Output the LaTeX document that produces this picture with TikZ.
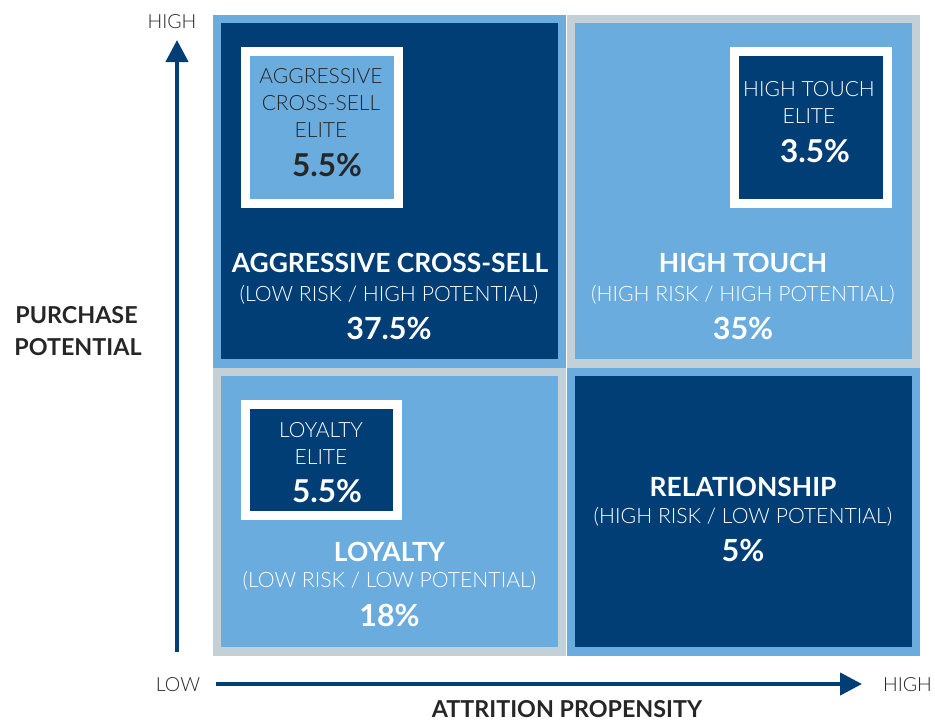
\documentclass[tikz,border=0pt]{standalone}
\usepackage{fontspec}
\usetikzlibrary{arrows.meta}
\setmainfont{Lato}
\newfontfamily\lightface{Lato Light}
\newfontfamily\boldface{Lato Bold}

\definecolor{navy}{HTML}{003E75}
\definecolor{sky}{HTML}{6AACDE}
\definecolor{mist}{HTML}{C3D1D6}
\definecolor{ink}{HTML}{262626}

\tikzset{
  cell/.style={line width=8.5pt, inner sep=0pt, outer sep=0pt, minimum width=345pt},
  elitebox/.style={draw=white, line width=9pt, inner sep=0pt, outer sep=0pt, minimum width=152.5pt},
  txt/.style={anchor=base, inner sep=0pt, outer sep=0pt},
  title/.style={txt, text=white, font=\boldface\fontsize{26.4}{26}\selectfont},
  subtitle/.style={txt, text=white, font=\lightface\fontsize{21.2}{21}\selectfont},
  share/.style={txt, text=white, font=\boldface\fontsize{30.5}{30}\selectfont},
  elitetxt/.style={txt, font=\lightface\fontsize{21}{21}\selectfont},
  eliteshare/.style={txt, font=\boldface\fontsize{31.5}{31}\selectfont},
  axislevel/.style={txt, text=ink, font=\lightface\fontsize{19.5}{19.5}\selectfont},
  axisname/.style={txt, text=ink, font=\boldface\fontsize{23.3}{23}\selectfont},
  axisarrow/.style={draw=navy, line width=4.3pt, -{Triangle[width=22pt,length=22pt]}},
}

\begin{document}
\begin{tikzpicture}[x=1pt,y=-1pt]
\useasboundingbox[fill=white] (0,0) rectangle (935,721);

% four quadrants: outer band colour + inner fill
\node[cell, draw=sky,  fill=navy, minimum height=344.5pt] (tl) at (389.25,191.2) {};
\node[cell, draw=mist, fill=sky,  minimum height=344.5pt] (tr) at (743.35,191.2) {};
\node[cell, draw=mist, fill=sky,  minimum height=279.5pt] (bl) at (389.25,511.7) {};
\node[cell, draw=sky,  fill=navy, minimum height=279.5pt] (br) at (743.35,511.7) {};

% elite boxes with white frames
\node[elitebox, fill=sky,  minimum height=152pt]   (tle) at (321.85,127.5) {};
\node[elitebox, fill=navy, minimum height=152pt]   (tre) at (810.85,127.5) {};
\node[elitebox, fill=navy, minimum height=110.4pt] (ble) at (321.65,460) {};

% elite labels
\node[elitetxt, text=ink] (tle1) at (321,83) {AGGRESSIVE};
\node[elitetxt, text=ink] (tle2) at (321,110) {CROSS-SELL};
\node[elitetxt, text=ink] (tle3) at (321,137) {ELITE};
\node[eliteshare, text=ink] (tle4) at (327,176) {5.5\%};

\node[elitetxt, text=white] (tre1) at (809,96.7) {HIGH TOUCH};
\node[elitetxt, text=white] (tre2) at (809,123) {ELITE};
\node[eliteshare, text=white] (tre3) at (815,162) {3.5\%};

\node[elitetxt, text=white] (ble1) at (321,437.3) {LOYALTY};
\node[elitetxt, text=white] (ble2) at (321,464) {ELITE};
\node[eliteshare, text=white] (ble3) at (327,502) {5.5\%};

% quadrant labels
\node[title]    (tlt) at (390,272.7) {AGGRESSIVE CROSS-SELL};
\node[subtitle] (tls) at (389,301.7) {(LOW RISK / HIGH POTENTIAL)};
\node[share]    (tlp) at (389,339) {37.5\%};

\node[title]    (trt) at (743,272.7) {HIGH TOUCH};
\node[subtitle] (trs) at (743,301.7) {(HIGH RISK / HIGH POTENTIAL)};
\node[share]    (trp) at (743,339) {35\%};

\node[title]    (blt) at (389.5,561) {LOYALTY};
\node[subtitle] (bls) at (389.5,587.5) {(LOW RISK / LOW POTENTIAL)};
\node[share]    (blp) at (389.5,626.7) {18\%};

\node[title]    (brt) at (743,496) {RELATIONSHIP};
\node[subtitle] (brs) at (743,523.5) {(HIGH RISK / LOW POTENTIAL)};
\node[share]    (brp) at (743,561) {5\%};

% axes
\coordinate (ybase) at (177,652);
\coordinate (ytip)  at (177,40);
\coordinate (xbase) at (216,684);
\coordinate (xtip)  at (862,684);
\draw[axisarrow] (ybase) -- (ytip);
\draw[axisarrow] (xbase) -- (xtip);

\node[axislevel] (yhigh) at (172,28) {HIGH};
\node[axislevel] (xlow)  at (178,691) {LOW};
\node[axislevel] (xhigh) at (907.5,691) {HIGH};
\node[axisname]  (xname) at (567,717.7) {ATTRITION PROPENSITY};
\node[axisname]  (yname1) at (76.5,323.3) {PURCHASE};
\node[axisname]  (yname2) at (78,355) {POTENTIAL};
\end{tikzpicture}
\end{document}
